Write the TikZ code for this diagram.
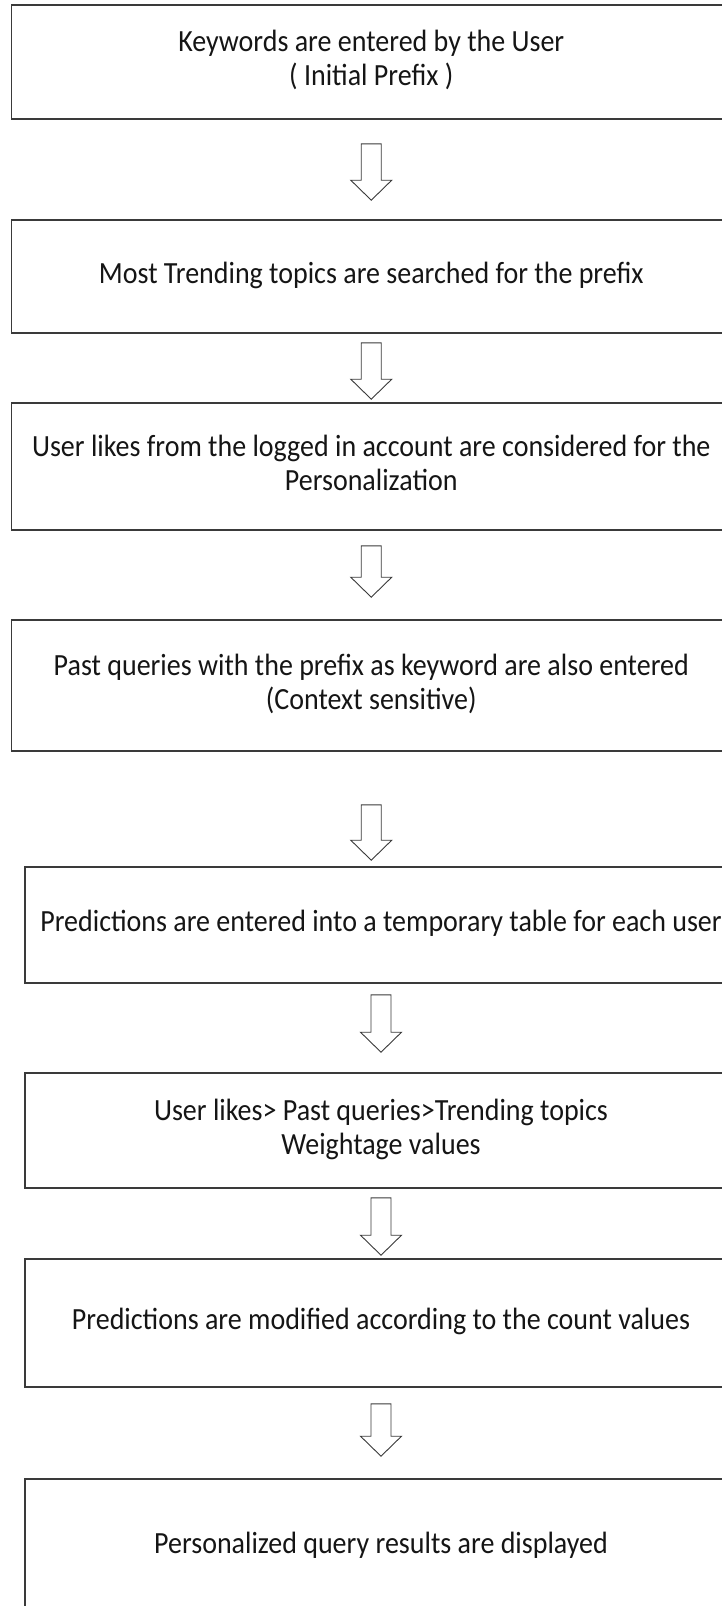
\documentclass[tikz,border=0pt]{standalone}
\usepackage{fontspec}
\setmainfont{Carlito}
\usetikzlibrary{calc}
\definecolor{edge}{HTML}{3A3A3A}
\definecolor{ink}{HTML}{151515}
% step text: centred lines, slightly taller glyphs
\newcommand\steptext[1]{\scalebox{1}[1.1]{\begin{tabular}{@{}c@{}}#1\end{tabular}}}
\tikzset{
  stepbox/.style={draw=edge, line width=1.6pt, rectangle, inner sep=0pt,
    align=center, text=ink, font=\fontsize{28}{31}\selectfont},
  % hollow block arrow from the start point down to the tip at the target
  blockarrow/.style={draw=edge, line width=0.9pt, fill=white, line join=miter,
    to path={let \p1=(\tikztostart), \p2=(\tikztotarget) in
      (\x1-10pt,\y1) -- (\x1+10pt,\y1) -- (\x1+10pt,\y2+20pt) -- (\x1+20.5pt,\y2+20pt)
      -- (\x1,\y2) -- (\x1-20.5pt,\y2+20pt) -- (\x1-10pt,\y2+20pt) -- cycle}}
}
\begin{document}
\begin{tikzpicture}[x=1pt,y=-1pt]
\useasboundingbox (0,0) rectangle (722,1606);
\clip (0,0) rectangle (722,1606);

% process steps
\node[stepbox, minimum width=719.5pt, minimum height=114pt] (b1) at (371.25,62)
  {\steptext{Keywords are entered by the User\\( Initial Prefix )}};
\node[stepbox, minimum width=719.5pt, minimum height=113pt] (b2) at (371.25,276.5)
  {\steptext{Most Trending topics are searched for the prefix}};
\node[stepbox, minimum width=719.5pt, minimum height=127pt] (b3) at (371.25,466.5)
  {\steptext{User likes from the logged in account are considered for the\\Personalization}};
\node[stepbox, minimum width=719.5pt, minimum height=131pt] (b4) at (371.25,685.5)
  {\steptext{Past queries with the prefix as keyword are also entered\\(Context sensitive)}};
\node[stepbox, minimum width=712pt, minimum height=116pt] (b5) at (381,925)
  {\steptext{Predictions are entered into a temporary table for each user}};
\node[stepbox, minimum width=712pt, minimum height=115pt] (b6) at (381,1130.5)
  {\steptext{User likes> Past queries>Trending topics\\Weightage values}};
\node[stepbox, minimum width=712pt, minimum height=128pt] (b7) at (381,1323)
  {\steptext{Predictions are modified according to the count values}};
\node[stepbox, minimum width=712pt, minimum height=136pt] (b8) at (381,1547)
  {\steptext{Personalized query results are displayed}};

% block arrows between the steps
\draw[blockarrow] ([yshift=-24pt]b1.south) to ([yshift=19pt]b2.north);
\draw[blockarrow] ([yshift=-9pt]b2.south)  to ([yshift=3pt]b3.north);
\draw[blockarrow] ([yshift=-15pt]b3.south) to ([yshift=22pt]b4.north);
\draw[blockarrow] ([yshift=-53pt]b4.south) to ([yshift=6pt]b5.north);
\draw[blockarrow] ([yshift=-11pt]b5.south) to ([yshift=20pt]b6.north);
\draw[blockarrow] ([yshift=-9pt]b6.south)  to ([yshift=3pt]b7.north);
\draw[blockarrow] ([yshift=-16pt]b7.south) to ([yshift=22pt]b8.north);
\end{tikzpicture}
\end{document}
